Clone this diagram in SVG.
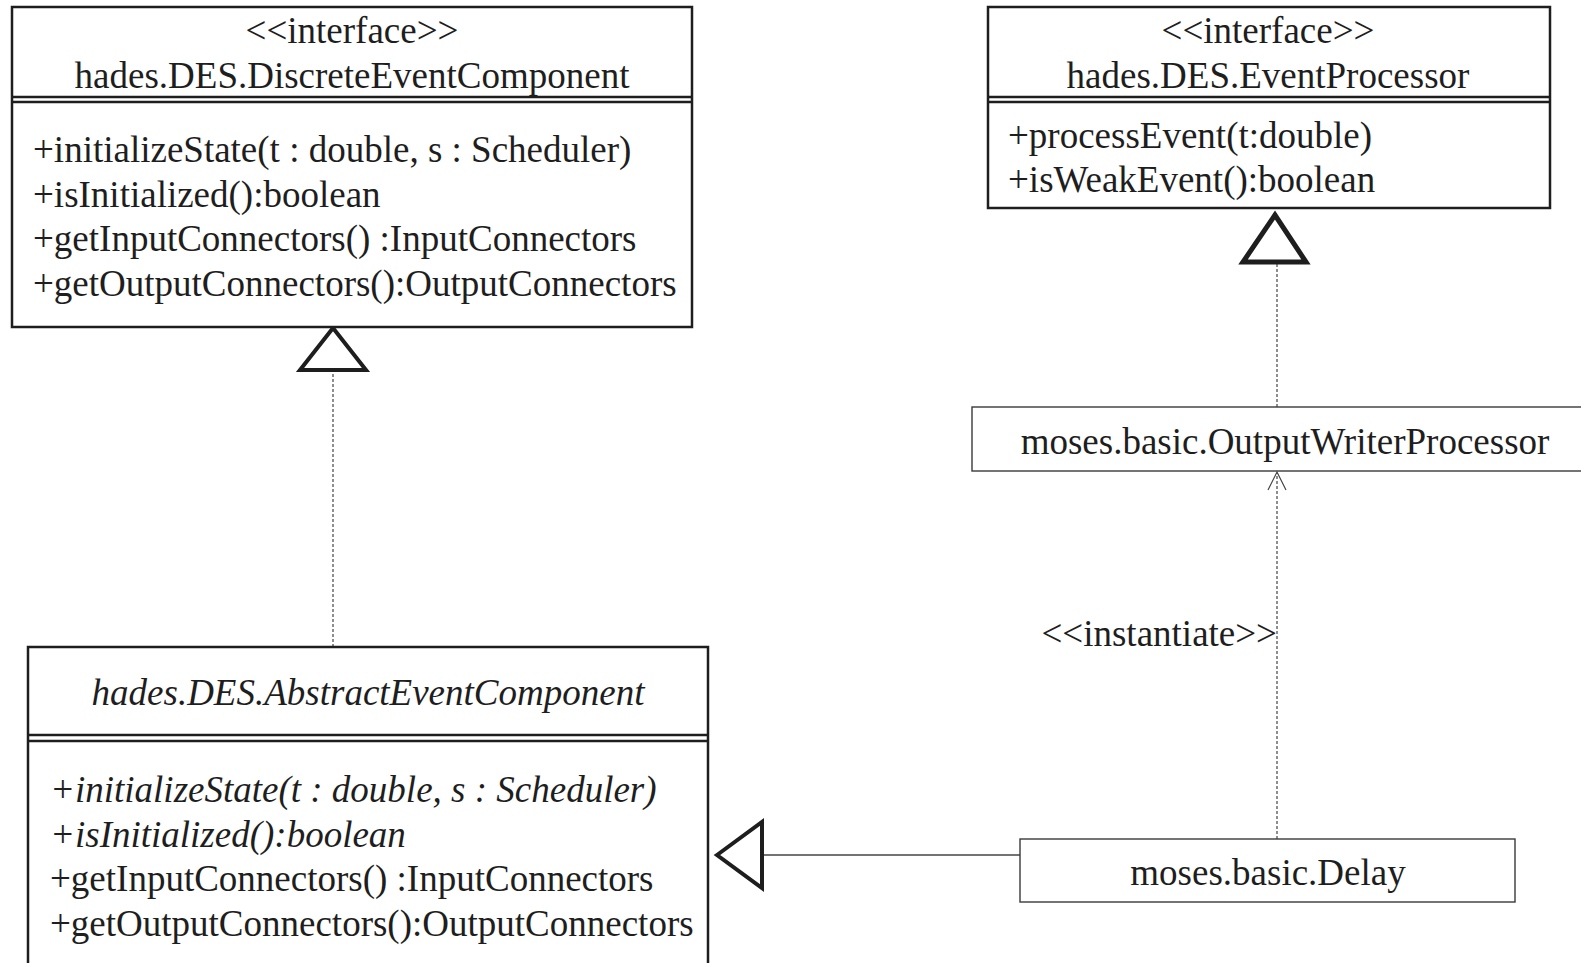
<svg xmlns="http://www.w3.org/2000/svg" width="1581" height="963" viewBox="0 0 1581 963">
  <style>
    text { font-family: "Liberation Serif", "Times New Roman", serif; font-size: 37px; fill: #1e1e1e; }
    .c { text-anchor: middle; }
    .i { font-style: italic; }
    .cls { fill: #fff; stroke: #1e1e1e; stroke-width: 2.5; }
    .thin { fill: #fff; stroke: #3a3a3a; stroke-width: 1.4; }
    .div { stroke: #1e1e1e; stroke-width: 2.5; }
    .dash { stroke: #444; stroke-width: 1.2; stroke-dasharray: 3 2; fill: none; }
    .solid { stroke: #444; stroke-width: 1.4; fill: none; }
    .tri { fill: #fff; stroke: #1e1e1e; stroke-width: 4; stroke-linejoin: miter; }
    .open { fill: none; stroke: #444; stroke-width: 1.2; }
  </style>

  <!-- connectors -->
  <g id="connectors">
    <!-- AbstractEventComponent realizes DiscreteEventComponent -->
    <line class="dash" x1="333" y1="647" x2="333" y2="371"/>
    <polygon class="tri" points="333,328 300,370 366,370"/>
    <!-- OutputWriterProcessor realizes EventProcessor -->
    <line class="dash" x1="1277" y1="407" x2="1277" y2="263"/>
    <polygon class="tri" style="stroke-width:5" points="1275,215 1243,262 1306,262"/>
    <!-- Delay instantiates OutputWriterProcessor -->
    <line class="dash" x1="1277" y1="839" x2="1277" y2="473"/>
    <polyline class="open" points="1268,490 1277,472 1286,490"/>
    <text x="1277" y="646" style="text-anchor:end">&lt;&lt;instantiate&gt;&gt;</text>
    <!-- Delay extends AbstractEventComponent -->
    <line class="solid" x1="1020" y1="855" x2="763" y2="855"/>
    <polygon class="tri" points="717,855 762,822 762,888"/>
  </g>

  <g id="DiscreteEventComponent">
    <rect class="cls" x="12" y="7" width="680" height="320"/>
    <line class="div" x1="12" y1="97" x2="692" y2="97"/>
    <line class="div" x1="12" y1="102" x2="692" y2="102"/>
    <text class="c" x="352" y="43">&lt;&lt;interface&gt;&gt;</text>
    <text class="c" x="352" y="88">hades.DES.DiscreteEventComponent</text>
    <text x="33" y="162">+initializeState(t : double, s : Scheduler)</text>
    <text x="33" y="207">+isInitialized():boolean</text>
    <text x="33" y="251">+getInputConnectors() :InputConnectors</text>
    <text x="33" y="296">+getOutputConnectors():OutputConnectors</text>
  </g>

  <g id="EventProcessor">
    <rect class="cls" x="988" y="7" width="562" height="201"/>
    <line class="div" x1="988" y1="97" x2="1550" y2="97"/>
    <line class="div" x1="988" y1="102" x2="1550" y2="102"/>
    <text class="c" x="1268" y="43">&lt;&lt;interface&gt;&gt;</text>
    <text class="c" x="1268" y="88">hades.DES.EventProcessor</text>
    <text x="1008" y="148">+processEvent(t:double)</text>
    <text x="1008" y="192">+isWeakEvent():boolean</text>
  </g>

  <g id="OutputWriterProcessor">
    <rect class="thin" x="972" y="407" width="615" height="64"/>
    <text class="c" x="1285" y="454">moses.basic.OutputWriterProcessor</text>
  </g>

  <g id="Delay">
    <rect class="thin" x="1020" y="839" width="495" height="63"/>
    <text class="c" x="1268" y="885">moses.basic.Delay</text>
  </g>

  <g id="AbstractEventComponent">
    <rect class="cls" x="28" y="647" width="680" height="330"/>
    <line class="div" x1="28" y1="735" x2="708" y2="735"/>
    <line class="div" x1="28" y1="741" x2="708" y2="741"/>
    <text class="c i" x="368" y="705">hades.DES.AbstractEventComponent</text>
    <text class="i" x="50" y="802">+initializeState(t : double, s : Scheduler)</text>
    <text class="i" x="50" y="847">+isInitialized():boolean</text>
    <text x="50" y="891">+getInputConnectors() :InputConnectors</text>
    <text x="50" y="936">+getOutputConnectors():OutputConnectors</text>
  </g>
</svg>
